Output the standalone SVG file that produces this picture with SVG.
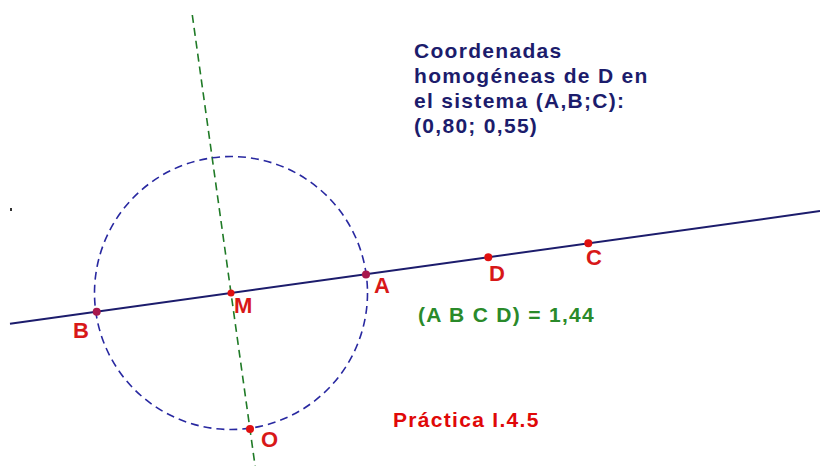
<svg xmlns="http://www.w3.org/2000/svg" width="820" height="466" viewBox="0 0 820 466">
<style>
text{font-family:"Liberation Sans",Arial,sans-serif;font-weight:bold;font-size:21px;letter-spacing:1.3px}
.info{fill:#1c1c6c}
.lbl{fill:#d81818;letter-spacing:0;font-size:22px}
.pt{fill:#e01010}
.ptp{fill:#a8184c}
</style>
<rect width="820" height="466" fill="#ffffff"/>
<g id="connectors">
<line id="perp" x1="192.3" y1="15" x2="255.1" y2="466" stroke="#1f7a26" stroke-width="1.6" stroke-dasharray="8,5"/>
<circle id="circle" cx="231" cy="293" r="136.5" fill="none" stroke="#2828a0" stroke-width="1.6" stroke-dasharray="8,5"/>
<line id="lineAB" x1="10" y1="323.8" x2="820" y2="211.1" stroke="#1c1c6c" stroke-width="2"/>
</g>
<rect x="10" y="208" width="2" height="3" fill="#333"/>
<g id="B"><circle cx="96.7" cy="311.7" r="4" class="ptp"/><text class="lbl" x="73" y="338">B</text></g>
<g id="M"><circle cx="231" cy="293" r="3.5" class="pt"/><text class="lbl" x="234" y="313">M</text></g>
<g id="A"><circle cx="366" cy="274.5" r="4" class="ptp"/><text class="lbl" x="374" y="293">A</text></g>
<g id="D"><circle cx="488.3" cy="257.3" r="4" class="pt"/><text class="lbl" x="489" y="281">D</text></g>
<g id="C"><circle cx="588.3" cy="243.3" r="4" class="pt"/><text class="lbl" x="586" y="265">C</text></g>
<g id="O"><circle cx="250" cy="429" r="4" class="pt"/><text class="lbl" x="261" y="447">O</text></g>
<g id="info">
<text class="info" x="414" y="58">Coordenadas</text>
<text class="info" x="414" y="83">homogéneas de D en</text>
<text class="info" x="414" y="108">el sistema (A,B;C):</text>
<text class="info" x="414" y="133">(0,80; 0,55)</text>
</g>
<g id="ratio"><text x="418" y="322" fill="#2a8a2a">(A B C D) = 1,44</text></g>
<g id="title"><text x="393" y="427" fill="#e00808">Práctica I.4.5</text></g>
</svg>
